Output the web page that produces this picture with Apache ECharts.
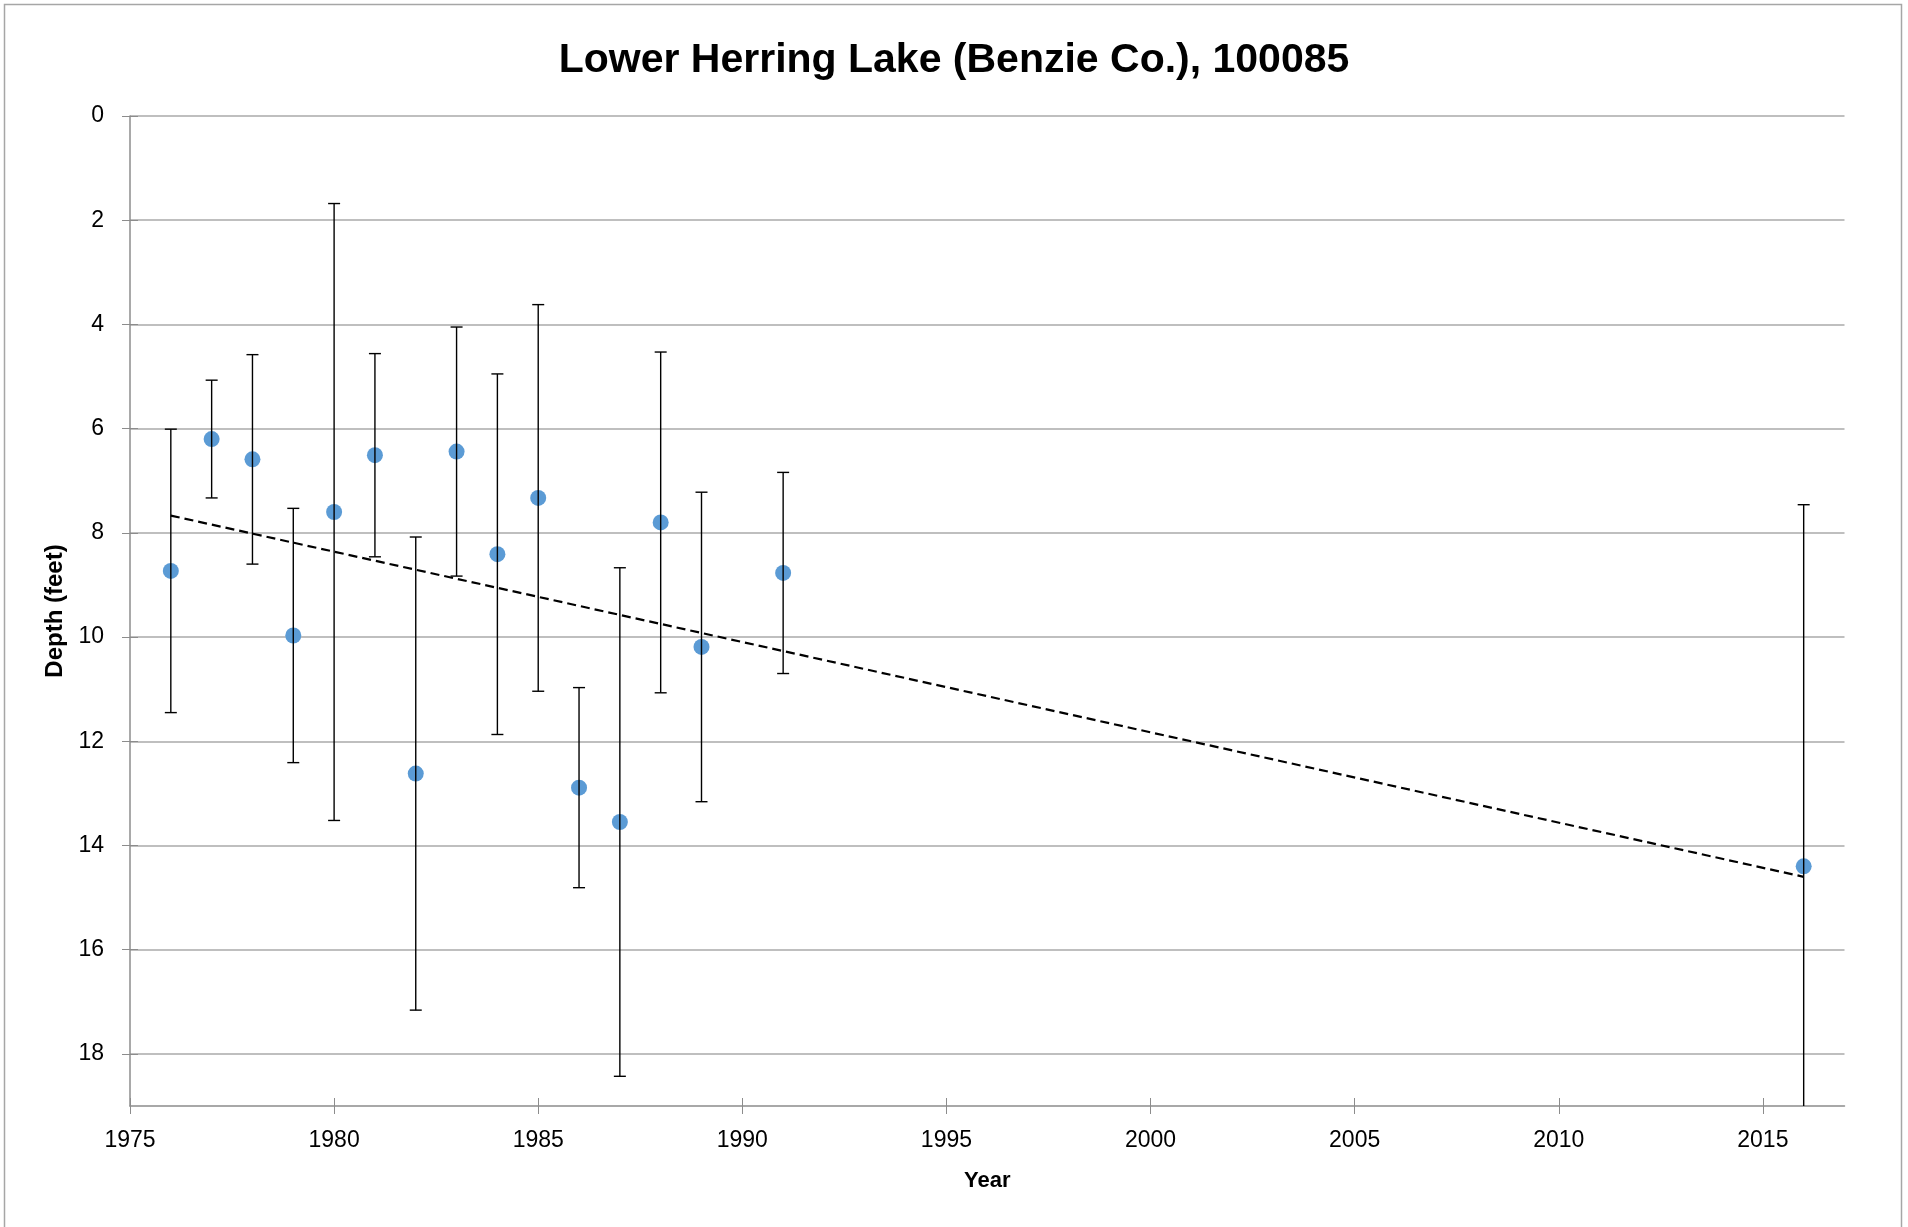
<!DOCTYPE html>
<html>
<head>
<meta charset="utf-8">
<script src="https://cdn.jsdelivr.net/npm/echarts@6/dist/echarts.min.js"></script>
<style>
  html, body { margin: 0; padding: 0; background: #fff; }
  #chart { width: 1908px; height: 1227px; }
</style>
</head>
<body>
<div id="chart"></div>
<script>
// ---- Data ----
const years  = [1976, 1977, 1978, 1979, 1980, 1981, 1982, 1983, 1984, 1985, 1986, 1987, 1988, 1989, 1991, 2016];
const depths = [8.73, 6.20, 6.59, 9.97, 7.60, 6.51, 12.62, 6.44, 8.41, 7.33, 12.89, 13.55, 7.80, 10.19, 8.77, 14.40];
const errors = [2.72, 1.13, 2.01, 2.44, 5.92, 1.95, 4.54, 2.39, 3.46, 3.71, 1.92, 4.88, 3.27, 2.97, 1.93, 6.94];
const xTicks = [1975, 1980, 1985, 1990, 1995, 2000, 2005, 2010, 2015];
const yTicks = [0, 2, 4, 6, 8, 10, 12, 14, 16, 18];

const titleText = 'Lower Herring Lake (Benzie Co.), 100085';
const xName = 'Year';
const yName = 'Depth (feet)';

// Linear trend (least squares), as the spreadsheet trendline
function linReg(xs, ys) {
  const n = xs.length;
  const mx = xs.reduce((a, b) => a + b, 0) / n;
  const my = ys.reduce((a, b) => a + b, 0) / n;
  let sxy = 0, sxx = 0;
  for (let i = 0; i < n; i++) { sxy += (xs[i] - mx) * (ys[i] - my); sxx += (xs[i] - mx) ** 2; }
  const slope = sxy / sxx;
  return x => my + slope * (x - mx);
}
const f = linReg(years, depths);
const xMinData = Math.min(...years), xMaxData = Math.max(...years);
const trendData = [[xMinData, f(xMinData)], [xMaxData, f(xMaxData)]];

const pointData = years.map((y, i) => [y, depths[i]]);
const errData = years.map((y, i) => [y, depths[i], errors[i]]);

const FONT = '"Liberation Sans", Arial, sans-serif';
const axisGrey = '#8c8c8c';

const chart = echarts.init(document.getElementById('chart'), null, { renderer: 'canvas' });
chart.setOption({
  backgroundColor: '#ffffff',
  animation: false,
  title: {
    text: titleText,
    left: 'center',
    top: 35,
    textStyle: { fontFamily: FONT, fontSize: 41, fontWeight: 'bold', color: '#000', lineHeight: 41 }
  },
  graphic: [{
    type: 'rect',
    shape: { x: 4.5, y: 4.5, width: 1897, height: 1240 },
    style: { fill: null, stroke: '#a6a6a6', lineWidth: 1.5 },
    silent: true
  }],
  grid: { left: 130, right: 63.5, top: 116, bottom: 121, containLabel: false },
  xAxis: [{
    type: 'value', min: 1975, max: 2017, interval: 5,
    position: 'bottom',
    name: xName, nameLocation: 'middle', nameGap: 64,
    nameTextStyle: { fontFamily: FONT, fontSize: 22, fontWeight: 'bold', color: '#000' },
    axisLine: { show: true, onZero: false, lineStyle: { color: axisGrey, width: 1.5 } },
    axisTick: { show: true, inside: false, length: 8, customValues: xTicks, lineStyle: { color: axisGrey, width: 1 } },
    axisLabel: { customValues: xTicks, margin: 23, fontFamily: FONT, fontSize: 23, color: '#000', formatter: v => String(v) },
    splitLine: { show: false }
  }, {
    type: 'value', min: 1975, max: 2017, interval: 5,
    position: 'bottom',
    axisLine: { show: false, onZero: false },
    axisTick: { show: true, inside: true, length: 8, customValues: xTicks, lineStyle: { color: axisGrey, width: 1 } },
    axisLabel: { show: false },
    splitLine: { show: false }
  }],
  yAxis: [{
    type: 'value', min: 0, max: 19, interval: 2, inverse: true,
    position: 'left',
    name: yName, nameLocation: 'middle', nameGap: 63,
    nameTextStyle: { fontFamily: FONT, fontSize: 24, fontWeight: 'bold', color: '#000' },
    axisLine: { show: true, onZero: false, lineStyle: { color: axisGrey, width: 1.5 } },
    axisTick: { show: true, inside: false, length: 8, customValues: yTicks, lineStyle: { color: axisGrey, width: 1 } },
    axisLabel: { customValues: yTicks, margin: 26, fontFamily: FONT, fontSize: 23, color: '#000', formatter: v => String(v) },
    splitLine: { show: true, lineStyle: { color: '#bfbfbf', width: 2 } }
  }, {
    type: 'value', min: 0, max: 19, interval: 2, inverse: true,
    position: 'left',
    axisLine: { show: false, onZero: false },
    axisTick: { show: true, inside: true, length: 8, customValues: yTicks, lineStyle: { color: axisGrey, width: 1 } },
    axisLabel: { show: false },
    splitLine: { show: false }
  }],
  series: [{
    type: 'scatter',
    name: 'Depth',
    data: pointData,
    symbol: 'circle',
    symbolSize: 16,
    itemStyle: { color: '#5b9bd5', opacity: 1 },
    z: 3
  }, {
    type: 'line',
    name: 'Trend',
    data: trendData,
    showSymbol: false,
    symbol: 'none',
    lineStyle: { color: '#000', width: 2.2, type: [9, 5] },
    z: 4
  }, {
    type: 'custom',
    name: 'Error',
    data: errData,
    clip: true,
    encode: { x: 0, y: 1 },
    z: 5,
    renderItem: function (params, api) {
      const x = api.value(0), y = api.value(1), e = api.value(2);
      const top = api.coord([x, y - e]);
      const bot = api.coord([x, y + e]);
      const cap = 6;
      const st = { stroke: '#000', lineWidth: 1.4 };
      return {
        type: 'group',
        children: [
          { type: 'line', shape: { x1: top[0], y1: top[1], x2: bot[0], y2: bot[1] }, style: st },
          { type: 'line', shape: { x1: top[0] - cap, y1: top[1], x2: top[0] + cap, y2: top[1] }, style: st },
          { type: 'line', shape: { x1: bot[0] - cap, y1: bot[1], x2: bot[0] + cap, y2: bot[1] }, style: st }
        ]
      };
    }
  }]
});
</script>
</body>
</html>
